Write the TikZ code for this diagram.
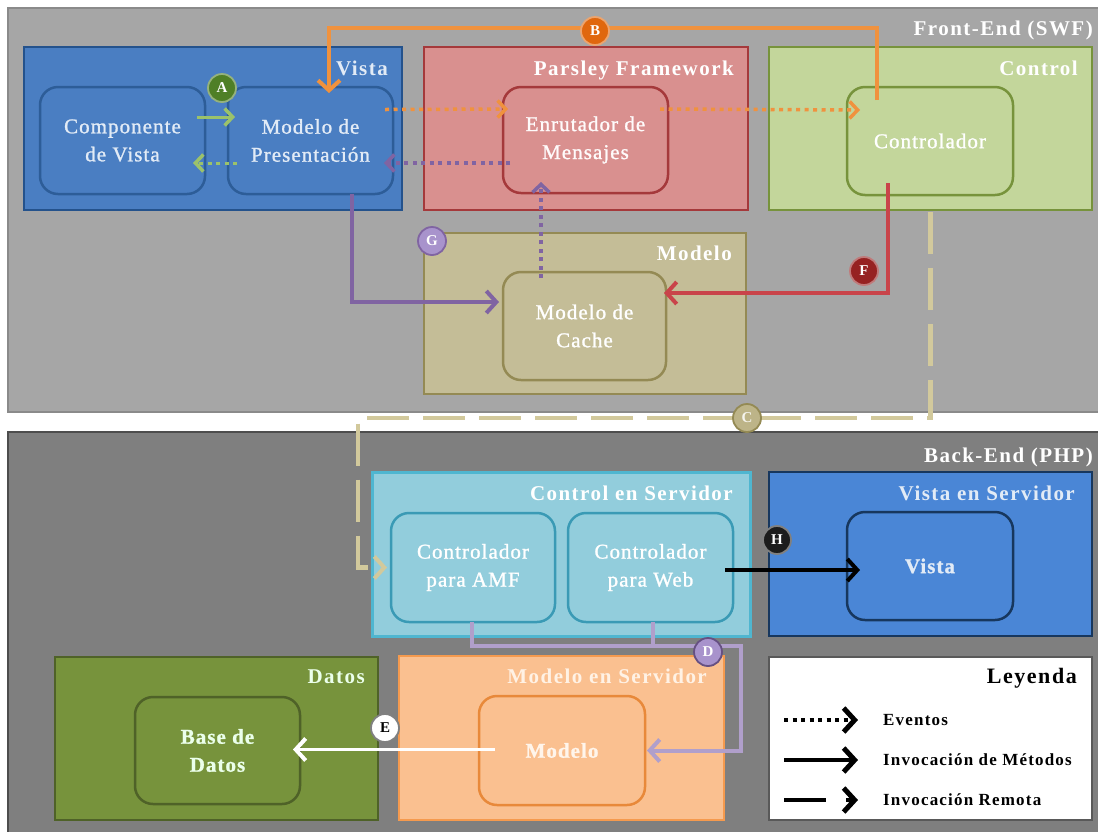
\documentclass[tikz,border=0pt]{standalone}
\usepackage{fontspec}
\setmainfont{Liberation Serif}
\newfontfamily\labelfamily[LetterSpace=5,FakeBold=1.2]{Liberation Serif}
\newfontfamily\titlefamily[LetterSpace=7]{Liberation Serif}
\usetikzlibrary{arrows.meta,calc}

% panels
\definecolor{frontbg}{HTML}{A6A6A6}
\definecolor{frontline}{HTML}{8A8A8A}
\definecolor{backbg}{HTML}{7F7F7F}
\definecolor{backline}{HTML}{4D4D4D}
% layers
\definecolor{vistafill}{HTML}{4A7EC2}
\definecolor{vistaline}{HTML}{24528C}
\definecolor{vistainner}{HTML}{2D5D98}
\definecolor{vistatext}{HTML}{E2EBF6}
\definecolor{parsfill}{HTML}{D9908F}
\definecolor{parsline}{HTML}{A5393B}
\definecolor{ctrlfill}{HTML}{C3D69B}
\definecolor{ctrlline}{HTML}{77933C}
\definecolor{modfill}{HTML}{C4BD97}
\definecolor{modline}{HTML}{948A54}
\definecolor{csfill}{HTML}{92CDDC}
\definecolor{csline}{HTML}{4FB6D0}
\definecolor{csinner}{HTML}{3A9AB5}
\definecolor{vsfill}{HTML}{4A86D6}
\definecolor{vsline}{HTML}{17375E}
\definecolor{datfill}{HTML}{77933C}
\definecolor{datline}{HTML}{4F6228}
\definecolor{msfill}{HTML}{FAC090}
\definecolor{msline}{HTML}{F59A4E}
\definecolor{msinner}{HTML}{E8893A}
\definecolor{legline}{HTML}{595959}
% connectors
\definecolor{greenarr}{HTML}{9BC26B}
\definecolor{orangearr}{HTML}{F0923E}
\definecolor{purplearr}{HTML}{8064A2}
\definecolor{redarr}{HTML}{C9444A}
\definecolor{tanarr}{HTML}{D2C99C}
\definecolor{lavarr}{HTML}{B09FCB}
% tags
\definecolor{tagA}{HTML}{4F7F26}
\definecolor{tagB}{HTML}{E0670E}
\definecolor{tagC}{HTML}{BDB488}
\definecolor{tagD}{HTML}{A893CC}
\definecolor{tagF}{HTML}{962222}
\definecolor{tagG}{HTML}{A893CC}
\definecolor{tagH}{HTML}{1C1C1C}

\tikzset{
  outerbox/.style={draw, line width=2pt, inner sep=0pt, outer sep=0pt},
  innerbox/.style={draw, line width=2.5pt, rounded corners=18pt, inner sep=0pt,
    outer sep=0pt, align=center, font=\labelfamily\fontsize{21}{28}\selectfont},
  boxtitle/.style={anchor=base east, inner sep=0pt,
    font=\titlefamily\bfseries\fontsize{21}{24}\selectfont},
  tag/.style={circle, draw, line width=1.8pt, minimum size=28pt, inner sep=0pt,
    font=\bfseries\fontsize{15}{15}\selectfont, text=white},
  legtext/.style={anchor=west, inner sep=0pt,
    font=\titlefamily\bfseries\fontsize{17}{20}\selectfont},
  barb/.style={-{Straight Barb[length=10pt,width=22pt,line width=4pt]}},
  smallbarb/.style={-{Straight Barb[length=8pt,width=17pt,line width=3.5pt]}},
  legbarb/.style={-{Straight Barb[length=11pt,width=24pt,line width=5pt]}},
  dots/.style={line width=3.5pt, dash pattern=on 4pt off 4.5pt},
  remote/.style={line width=4.5pt, dash pattern=on 42pt off 14pt},
}

\begin{document}
\begin{tikzpicture}[x=1pt,y=-1pt]
\useasboundingbox (0,0) rectangle (1098,831);
\fill[white] (0,0) rectangle (1098,831);

% the two tiers
\begin{scope}
  \clip (0,0) rectangle (1098,831);
  \draw[fill=frontbg, draw=frontline, line width=1.5pt] (8,8) rectangle (1130,412);
  \draw[fill=backbg, draw=backline, line width=2pt] (8,432) rectangle (1130,860);
\end{scope}
\node[boxtitle, text=white] (fe) at (1093,35) {Front-End (SWF)};
\node[boxtitle, text=white] (be) at (1093,462) {Back-End (PHP)};

% ---------- Front-End ----------
\node[outerbox, fill=vistafill, draw=vistaline, minimum width=378pt, minimum height=163pt] (vista) at (213,128.5) {};
\node[boxtitle, text=vistatext] at ($(vista.north east)+(-14,28)$) {Vista};
\node[innerbox, fill=vistafill, draw=vistainner, text=vistatext, minimum width=165pt, minimum height=107pt] (comp) at (122.5,140.5) {Componente\\de Vista};
\node[innerbox, fill=vistafill, draw=vistainner, text=vistatext, minimum width=165pt, minimum height=107pt] (mpres) at (310.5,140.5) {Modelo de\\Presentación};

\node[outerbox, fill=parsfill, draw=parsline, minimum width=324pt, minimum height=163pt] (pars) at (586,128.5) {};
\node[boxtitle, text=white] at ($(pars.north east)+(-14,28)$) {Parsley Framework};
\node[innerbox, fill=parsfill, draw=parsline, text=white!94!pink, minimum width=165pt, minimum height=106pt] (enrut) at (585.5,140) {Enrutador de\\Mensajes};

\node[outerbox, fill=ctrlfill, draw=ctrlline, minimum width=323pt, minimum height=163pt] (control) at (930.5,128.5) {};
\node[boxtitle, text=white] at ($(control.north east)+(-14,28)$) {Control};
\node[innerbox, fill=ctrlfill, draw=ctrlline, text=white, minimum width=166pt, minimum height=108pt] (ctrl) at (930,141) {Controlador};

\node[outerbox, fill=modfill, draw=modline, minimum width=322pt, minimum height=161pt] (modelo) at (585,313.5) {};
\node[boxtitle, text=white] at ($(modelo.north east)+(-14,27)$) {Modelo};
\node[innerbox, fill=modfill, draw=modline, text=white, minimum width=163pt, minimum height=108pt] (cache) at (584.5,326) {Modelo de\\Cache};

% ---------- Back-End ----------
\node[outerbox, fill=csfill, draw=csline, line width=3pt, minimum width=378pt, minimum height=164pt] (csrv) at (561,554) {};
\node[boxtitle, text=white] at ($(csrv.north east)+(-17,28)$) {Control en Servidor};
\node[innerbox, fill=csfill, draw=csinner, text=white, minimum width=164pt, minimum height=109pt] (amf) at (473,567.5) {Controlador\\para AMF};
\node[innerbox, fill=csfill, draw=csinner, text=white, minimum width=165pt, minimum height=109pt] (web) at (650.5,567.5) {Controlador\\para Web};

\node[outerbox, fill=vsfill, draw=vsline, line width=2.5pt, minimum width=323pt, minimum height=164pt] (vsrv) at (930.5,554) {};
\node[boxtitle, text=vistatext] at ($(vsrv.north east)+(-17,28)$) {Vista en Servidor};
\node[innerbox, fill=vsfill, draw=vsline, text=vistatext, minimum width=166pt, minimum height=108pt] (vistaI) at (930,566) {\bfseries Vista};

\node[outerbox, fill=datfill, draw=datline, minimum width=323pt, minimum height=163pt] (datos) at (216.5,738.5) {};
\node[boxtitle, text=white!92!green] at ($(datos.north east)+(-13,26)$) {Datos};
\node[innerbox, fill=datfill, draw=datline, text=white!92!green, minimum width=165pt, minimum height=107pt] (bd) at (217.5,750.5) {\bfseries Base de\\\bfseries Datos};

\node[outerbox, fill=msfill, draw=msline, minimum width=325pt, minimum height=164pt] (msrv) at (561.5,738) {};
\node[boxtitle, text=white!90!orange] at ($(msrv.north east)+(-17,27)$) {Modelo en Servidor};
\node[innerbox, fill=msfill, draw=msinner, text=white!92!orange, minimum width=166pt, minimum height=109pt] (mod) at (562,750.5) {\bfseries Modelo};

% legend
\node[outerbox, fill=white, draw=legline, minimum width=323pt, minimum height=163pt] (leg) at (930.5,738.5) {};
\node[boxtitle, text=black, font=\titlefamily\bfseries\fontsize{22}{26}\selectfont] at ($(leg.north east)+(-15,26)$) {Leyenda};
\node[legtext] (ev) at (883,720) {Eventos};
\node[legtext] (im) at (883,760) {Invocación de Métodos};
\node[legtext] (ir) at (883,800) {Invocación Remota};
\coordinate (l1a) at (784,720); \coordinate (l1b) at (858,720);
\coordinate (l2a) at (784,760); \coordinate (l2b) at (858,760);
\coordinate (l3a) at (784,800); \coordinate (l3m) at (826,800);
\coordinate (l3n) at (846,800); \coordinate (l3b) at (858,800);
\draw[dots, legbarb, black, line width=4pt] (l1a) -- (l1b);
\draw[legbarb, black, line width=4pt] (l2a) -- (l2b);
\draw[black, line width=4pt] (l3a) -- (l3m);
\draw[legbarb, black, line width=4pt] (l3n) -- (l3b);

% ---------- connectors ----------
% A: view component <-> presentation model
\draw[smallbarb, greenarr, line width=3pt] ($(comp.east)+(-8,-23.5)$) -- ($(mpres.west)+(7,-23.5)$);
\draw[smallbarb, dots, greenarr, line width=3pt] ($(mpres.west)+(9,22.5)$) -- ($(comp.east)+(-12,22.5)$);

% events through the message router
\draw[smallbarb, dots, orangearr] ($(mpres.east)+(-8,-31)$) -- ($(enrut.west)+(5,-31)$);
\draw[smallbarb, dots, orangearr] ($(enrut.east)+(-8,-31)$) -- ($(ctrl.west)+(13,-31)$);
\draw[smallbarb, dots, purplearr] ($(enrut.west)+(7,23)$) -- ($(mpres.east)+(-9,22.5)$);
\draw[smallbarb, dots, purplearr] ($(cache.north)+(-43.5,6)$) -- ($(enrut.south)+(-44.5,-11)$);

% B: controller calls the presentation model
\coordinate (btop) at ($(mpres.north)+(18.5,-59)$);
\draw[barb, orangearr, line width=4pt] ($(ctrl.north)+(-53,13)$) |- (btop) -- ($(mpres.north)+(18.5,6)$);

% G: presentation model uses the cache model
\draw[barb, purplearr, line width=4pt] (mpres.south) ++(41.5,0) |- ($(cache.west)+(-4,-24)$);

% F: controller updates the cache model
\draw[barb, redarr, line width=4pt] ($(ctrl.south)+(-42,-12)$) |- ($(cache.east)+(-2,-33)$);

% C: remote call to the AMF controller
\coordinate (cbend) at (358,418);
\draw[barb, remote, tanarr] ($(control.south)+(0,2)$) |- (cbend) |- ($(amf.west)+(-4,0)$);

% H: web controller renders the server view
\coordinate (h0) at ($(web.east)+(-8,2.5)$);
\draw[barb, black, line width=3.5pt] (h0) -- ($(vistaI.west |- h0)+(13,0)$);

% D: server controllers call the server model
\coordinate (dj) at ($(web.south)+(2.5,24)$);
\coordinate (dr) at (741,646);
\draw[lavarr, line width=4pt] ($(web.south)+(2.5,0)$) -- (dj);
\draw[barb, lavarr, line width=4pt] ($(amf.south)+(-1,0)$) |- (dr) |- ($(mod.east)+(2,0)$);

% E: server model reaches the database
\draw[barb, white, line width=3pt] ($(mod.west)+(16,-1)$) -- ($(bd.east)+(-7,-1)$);

% ---------- step tags ----------
\node[tag, fill=tagA, draw=tagA!60!white] (tA) at (222,88) {A};
\node[tag, fill=tagB, draw=tagB!60!white] (tB) at (595,31) {B};
\node[tag, fill=tagC, draw=modline, text=white!85!tagC] (tC) at (747,418) {C};
\node[tag, fill=tagD, draw=purplearr!80!black] (tD) at (708,652) {D};
\node[tag, fill=white, draw=gray, text=black] (tE) at (385,728) {E};
\node[tag, fill=tagF, draw=tagF!60!white] (tF) at (864,271) {F};
\node[tag, fill=tagG, draw=purplearr] (tG) at (432,241) {G};
\node[tag, fill=tagH, draw=gray] (tH) at (777,540) {H};
\end{tikzpicture}
\end{document}
